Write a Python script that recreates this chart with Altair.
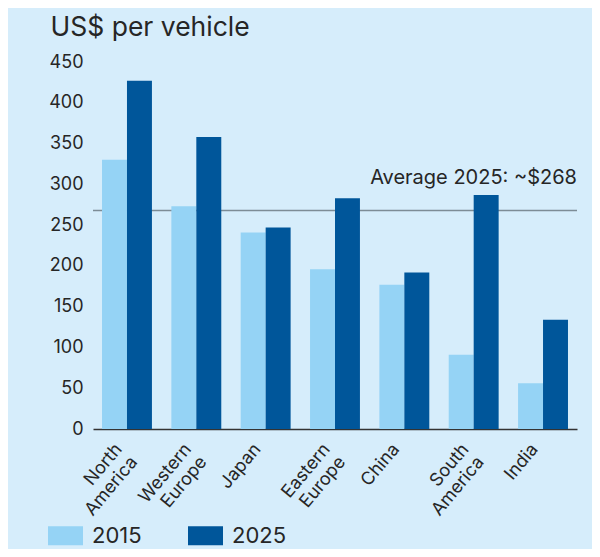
import altair as alt
import pandas as pd

regions = ["North America", "Western Europe", "Japan", "Eastern Europe",
           "China", "South America", "India"]
v2015 = [330, 273, 241, 196, 177, 91, 56]
v2025 = [427, 358, 247, 283, 192, 287, 134]
years = ["2015", "2025"]
colors = ["#95d3f5", "#00569a"]
avg_2025 = 268
avg_label = "Average 2025: ~$268"
y_ticks = [0, 50, 100, 150, 200, 250, 300, 350, 400, 450]

rows = []
for r, a, b in zip(regions, v2015, v2025):
    rows.append({"region": r, "year": years[0], "value": a})
    rows.append({"region": r, "year": years[1], "value": b})
df = pd.DataFrame(rows)

W, H = 484, 367
FONT = "Inter"
TXT = "#262626"

x_enc = alt.X("region:N", sort=regions, title=None,
              scale=alt.Scale(paddingInner=0.28, paddingOuter=0.13),
              axis=alt.Axis(labelAngle=-50, labelAlign="right", labelBaseline="middle",
                            labelFontSize=18, labelLineHeight=20, labelPadding=17,
                            labelOffset=-8,
                            labelExpr="split(datum.label, ' ')", ticks=False,
                            domainColor="#333333", domainWidth=1.5,
                            labelColor=TXT, labelFont=FONT))
y_enc = alt.Y("value:Q", title="US$ per vehicle",
              scale=alt.Scale(domain=[0, 450], nice=False),
              axis=alt.Axis(values=y_ticks, grid=False, domain=False, ticks=False,
                            labelFontSize=18, labelPadding=10, labelColor=TXT,
                            labelFont=FONT,
                            titleAngle=0, titleAlign="left", titleBaseline="alphabetic",
                            titleX=-43, titleY=-27, titleFontSize=26.5,
                            titleFontWeight="normal", titleColor=TXT, titleFont=FONT))

bars = alt.Chart(df).mark_bar().encode(
    x=x_enc,
    xOffset=alt.XOffset("year:N", sort=years),
    y=y_enc,
    color=alt.Color("year:N", sort=years,
                    scale=alt.Scale(domain=years, range=colors),
                    legend=alt.Legend(title=None, orient="none", direction="horizontal",
                                      legendX=-45, legendY=456, padding=0,
                                      symbolType="M-1,-0.54H1V0.54H-1Z",
                                      symbolSize=1225, symbolStrokeWidth=0,
                                      symbolOpacity=1,
                                      labelFontSize=22, labelFont=FONT, labelColor=TXT,
                                      labelOffset=9, columnPadding=46)),
)

avg_df = pd.DataFrame({"avg": [avg_2025], "label": [avg_label]})
rule = alt.Chart(avg_df).mark_rule(color="#7d8c96", strokeWidth=1.5).encode(
    y=alt.Y("avg:Q")
)
label = alt.Chart(avg_df).mark_text(align="right", baseline="alphabetic", dy=-26,
                                    fontSize=20, font=FONT, color=TXT).encode(
    y=alt.Y("avg:Q"), x=alt.value(W), text="label:N"
)

chart = alt.layer(rule, bars, label).properties(
    width=W, height=H,
    autosize=alt.AutoSizeParams(type="none"),
    padding={"left": 85, "top": 54, "right": 15, "bottom": 120},
    background="#d6edfb",
).configure_view(stroke=None)

chart.save("out.html", embed_options={"renderer": "svg", "actions": False})
